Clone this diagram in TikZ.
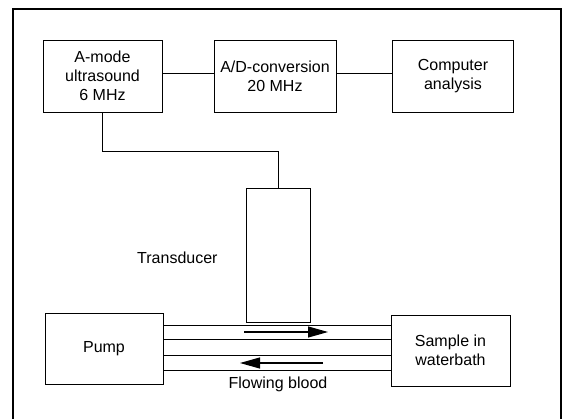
\documentclass[tikz,border=0pt]{standalone}
\usepackage{fontspec}
\setmainfont{Liberation Sans}
\usetikzlibrary{arrows.meta}
\begin{document}
\begin{tikzpicture}[x=1pt,y=-1pt,
  blk/.style={draw, line width=0.9pt, inner sep=0pt, align=center,
    font=\fontsize{16}{19}\selectfont},
  lbl/.style={inner sep=0pt, font=\fontsize{16}{19}\selectfont},
  wire/.style={line width=0.9pt},
  flow/.style={line width=1.1pt, -{Triangle[length=20pt,width=11pt]}}]
\useasboundingbox (0,0) rectangle (570,418);
% outer frame (bottom edge lies below the picture)
\draw[line width=1.1pt] (13,420) -- (13,9) -- (561,9) -- (561,420);
% blocks
\node[blk, minimum width=119pt, minimum height=72pt] (amode) at (102.5,76) {A-mode\\ultrasound\\6 MHz};
\node[blk, minimum width=122pt, minimum height=72pt] (ad) at (275,76) {A/D-conversion\\20 MHz};
\node[blk, minimum width=121pt, minimum height=72pt] (comp) at (453,76) {Computer\\analysis};
\node[blk, minimum width=64pt, minimum height=134pt] (trans) at (278,255) {};
\node[blk, minimum width=118pt, minimum height=71pt] (pump) at (104,348.5) {Pump};
\node[blk, minimum width=119pt, minimum height=71pt] (sample) at (450.5,350.5) {Sample in\\waterbath};
% labels
\node[lbl, anchor=base west] (tlabel) at (137,263) {Transducer};
\node[lbl, anchor=base] (flabel) at (278,388) {Flowing blood};
% connectors
\draw[wire] ([yshift=3pt]amode.east) -- ([yshift=3pt]amode.east -| ad.west);
\draw[wire] ([yshift=3pt]ad.east) -- ([yshift=3pt]ad.east -| comp.west);
\draw[wire] (amode.south) -- (amode.south |- 0,151) -| (trans.north);
% tubes
\foreach \yy in {325,339,355,370}
  \draw[wire] (pump.east |- 0,\yy) -- (sample.west |- 0,\yy);
% flow arrows
\coordinate (f1s) at (244,332);
\coordinate (f1e) at (328,332);
\coordinate (f2s) at (323,363);
\coordinate (f2e) at (240,363);
\draw[flow] (f1s) -- (f1e);
\draw[flow] (f2s) -- (f2e);
\end{tikzpicture}
\end{document}
